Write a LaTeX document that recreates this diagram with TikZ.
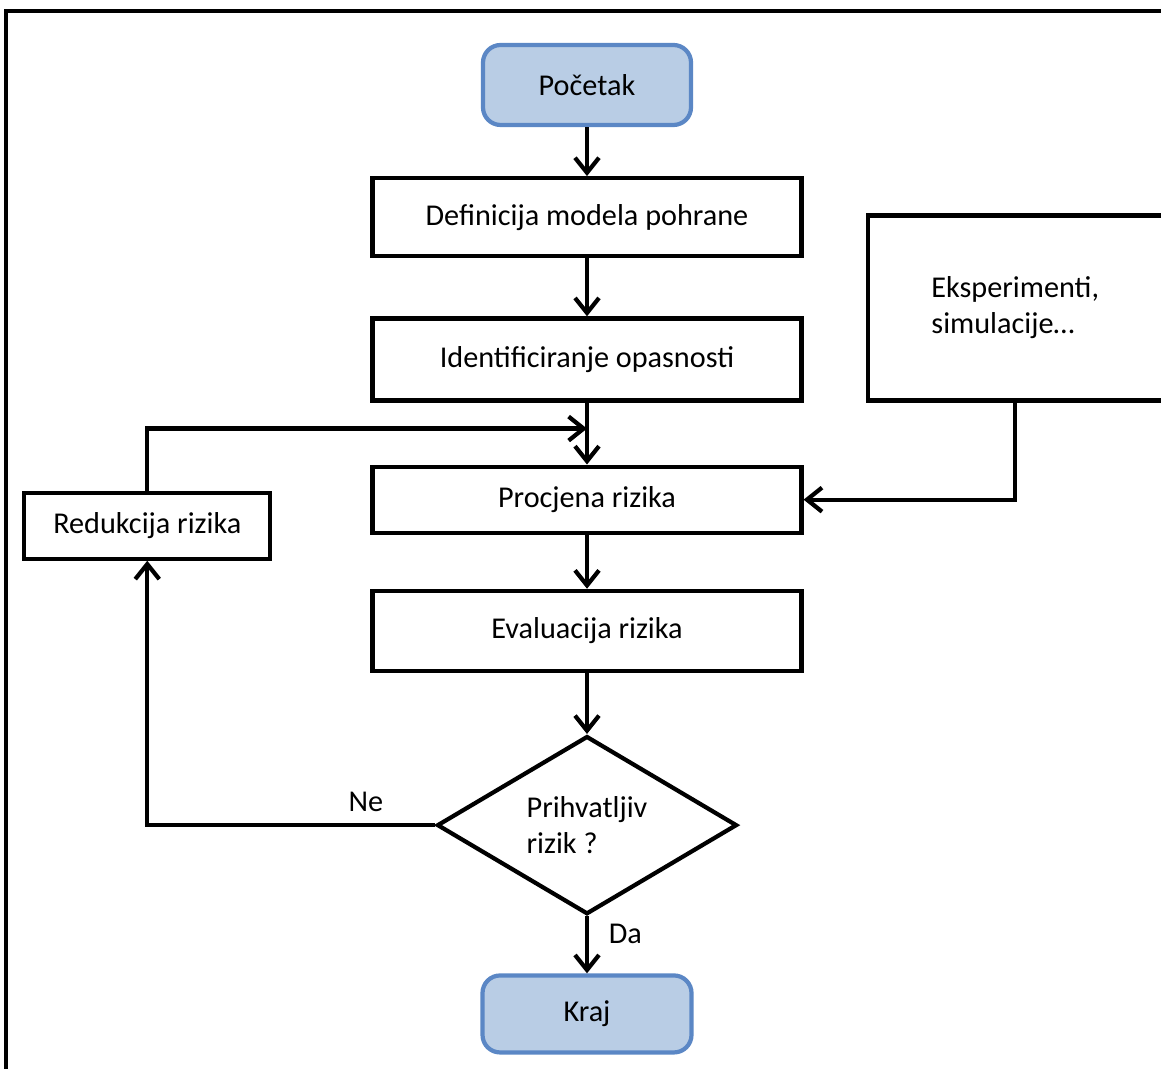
\documentclass[tikz,border=0pt]{standalone}
\usepackage{fontspec}
\setmainfont{Carlito}
\usepackage{tikz}
\usetikzlibrary{positioning, arrows.meta, shapes.geometric, calc}
\definecolor{termfill}{HTML}{B9CDE5}
\definecolor{termdraw}{HTML}{5B87C5}
\newcommand{\flowfont}{\fontsize{8.6}{10.3}\selectfont}
\tikzset{
  term/.style    = {rectangle, rounded corners=5pt, draw=termdraw, line width=1.2pt,
                    fill=termfill, minimum width=2.08cm, minimum height=0.8cm,
                    align=center, font=\flowfont},
  proc/.style    = {rectangle, draw=black, line width=1.2pt,
                    minimum width=4.29cm, minimum height=0.8cm,
                    align=center, font=\flowfont},
  decide/.style  = {diamond, draw=black, line width=1.2pt, minimum width=3.0cm,
                    minimum height=1.77cm, inner sep=0pt, align=left, font=\flowfont},
  arr/.style     = {-{Straight Barb[length=1.5mm,width=2.4mm]}, line width=1.2pt},
  lbl/.style     = {font=\flowfont},
}

\begin{document}
\begin{tikzpicture}[node distance=0.6cm and 1.0cm]

  \useasboundingbox (0,0) rectangle (11.61,-10.69);
  \draw[line width=0.9pt] (0.06,-10.69) -- (0.06,-0.11) -- (11.61,-0.11);

  \node[term] (start) at (5.87,-0.85) {Početak};
  \node[proc, below=0.49cm of start, minimum height=0.78cm]  (model)  {Definicija modela pohrane};
  \node[proc, below=0.58cm of model, minimum height=0.82cm]  (hazard) {Identificiranje opasnosti};
  \node[proc, below=0.62cm of hazard, minimum height=0.66cm] (assess) {Procjena rizika};
  \node[proc, below=0.54cm of assess]                        (evalr)  {Evaluacija rizika};
  \node[decide, below=0.61cm of evalr]                       (accept) {Prihvatljiv\\rizik ?};
  \node[term, below=0.57cm of accept, minimum width=2.09cm,
        minimum height=0.77cm]                                (stop)   {Kraj};

  \node[proc, left=0.98cm of assess, yshift=-0.26cm, minimum width=2.46cm,
        minimum height=0.66cm] (reduce) {Redukcija rizika};
  \node[proc, right=0.62cm of hazard, yshift=0.515cm, minimum width=2.95cm,
        minimum height=1.85cm, align=left] (exper) {Eksperimenti,\\simulacije…};

  \coordinate (merge) at ($(hazard.south)!0.42!(assess.north)$);

  \draw[arr] (start.south) -- (model.north);
  \draw[arr] (model.south) -- (hazard.north);
  \draw[arr] (hazard.south) -- (assess.north);
  \draw[arr] (assess.south) -- (evalr.north);
  \draw[arr] (evalr.south) -- (accept.north);
  \draw[arr] (accept.south) -- node[pos=0.3, right=0.8mm, lbl]{Da} (stop.north);
  \draw[arr] (exper.south) |- (assess.east);
  \draw[arr] (accept.west) -| node[pos=0.12, above, lbl]{Ne} (reduce.south);
  \draw[arr] (reduce.north) |- (merge);

\end{tikzpicture}
\end{document}
